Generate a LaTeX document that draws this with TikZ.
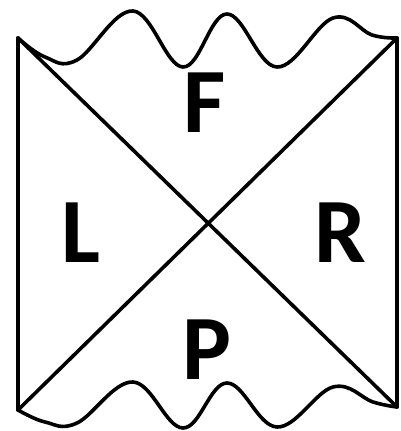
\documentclass[tikz,border=0pt]{standalone}
\usepackage{fontspec}
\setmainfont{Carlito}
\begin{document}
\begin{tikzpicture}[x=1pt,y=-1pt,
  edge/.style={line width=3.6pt,line cap=round,line join=round,black},
  lbl/.style={inner sep=0pt,font=\fontsize{92}{92}\selectfont\bfseries}]
\useasboundingbox (0,0) rectangle (400,431);
\coordinate (TL) at (18,38);
\coordinate (TR) at (397,38);
\coordinate (BL) at (18,410);
\coordinate (BR) at (397,407);
\draw[edge] (TL) -- (BL);
\draw[edge] (TR) -- (BR);
\draw[edge] (TL) -- (BR);
\draw[edge] (BL) -- (TR);
\draw[edge] plot[smooth,tension=0.65] coordinates {(18,38) (45,57) (77,60) (133,11) (183,67) (227,14) (277,67) (333,18) (372,35) (397,38)};
\draw[edge] plot[smooth,tension=0.65] coordinates {(18,410) (45,422) (77,423) (133,382) (183,428) (227,383) (277,427) (333,387) (373,402) (397,407)};
\node[lbl] (F) at (205,102.5) {F};
\node[lbl] (L) at (81,232.5) {L};
\node[lbl] (R) at (340,232.5) {R};
\node[lbl] (P) at (207,349.5) {P};
\end{tikzpicture}
\end{document}
